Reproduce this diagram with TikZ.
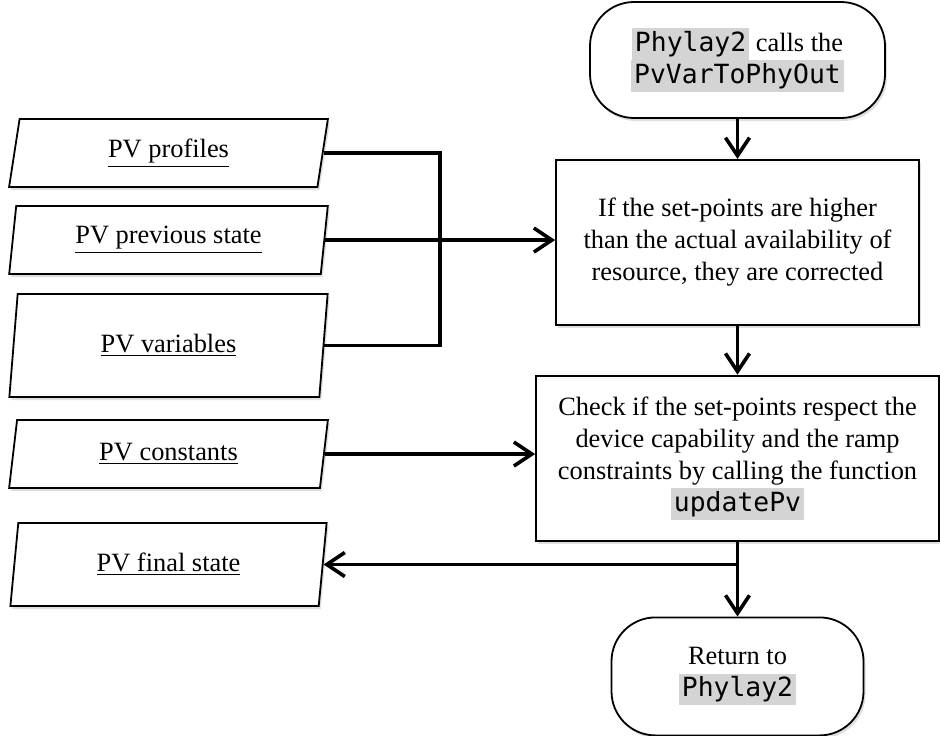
\documentclass[tikz,border=0pt]{standalone}
\usepackage{fontspec}
\setmainfont{Liberation Serif}
\setmonofont{DejaVu Sans Mono}
\usepackage{tikz}
\usetikzlibrary{
	positioning,
	arrows.meta,
	shapes.geometric,
	shadows
}
\definecolor{codegray}{RGB}{212,212,212}
\newcommand{\codebox}[1]{{\setlength{\fboxsep}{1.5pt}\colorbox{codegray}{\ttfamily #1}}}

\begin{document}
\begin{tikzpicture}[
				x=1pt, y=1pt,
				every node/.style={
					font=\fontsize{13.2}{16}\selectfont
				},
				terminal/.style={
					draw,
					rectangle,
					rounded corners=22pt,
					line width=0.9pt,
					fill=white,
					align=center,
					drop shadow={opacity=0.25, shadow xshift=1pt, shadow yshift=-1.5pt}
				},
				process/.style={
					draw,
					rectangle,
					line width=0.9pt,
					fill=white,
					align=center,
					drop shadow={opacity=0.25, shadow xshift=1pt, shadow yshift=-1.5pt}
				},
				dataio/.style={
					draw,
					trapezium,
					trapezium left angle=83.5,
					trapezium right angle=96.5,
					trapezium stretches=true,
					minimum width=159.5pt,
					line width=0.9pt,
					fill=white,
					drop shadow={opacity=0.25, shadow xshift=1pt, shadow yshift=-1.5pt}
				},
				link/.style={
					line width=1.8pt
				},
				arrow/.style={
					-{Straight Barb[length=9pt,width=12pt]},
					line width=1.8pt
				}
				]
				
				\useasboundingbox (0,0) rectangle (470,-367.5);
				
				% main column
				\node[terminal, minimum width=147.5pt, minimum height=58pt] (start) at (368.75,-30) {
					\codebox{Phylay2} calls the\\
					\codebox{PvVarToPhyOut}
				};
				
				\node[process, below=20pt of start, minimum width=181.5pt, minimum height=82.5pt] (correct) {
					If the set-points are higher\\
					than the actual availability of\\
					resource, they are corrected
				};
				
				\node[process, below=24.5pt of correct, minimum width=201.5pt, minimum height=82.5pt] (check) {
					Check if the set-points respect the\\
					device capability and the ramp\\
					constraints by calling the function\\
					\codebox{updatePv}
				};
				
				\node[terminal, below=37.5pt of check, minimum width=126pt, minimum height=59pt] (return) {
					Return to\\
					\codebox{Phylay2}
				};
				
				% data
				\node[dataio, minimum height=34pt] (profiles) at (84.25,-76.5) {\underline{PV profiles}};
				\node[dataio, minimum height=34pt] (previous) at (84.25,-120) {\underline{PV previous state}};
				\node[dataio, minimum height=51.5pt] (variables) at (84.25,-172.75) {\underline{PV variables}};
				\node[dataio, minimum height=34pt] (constants) at (84.25,-227) {\underline{PV constants}};
				\node[dataio, minimum height=41.5pt] (final) at (84.25,-282.25) {\underline{PV final state}};
				
				\coordinate (bus) at (220,0);
				\coordinate (fork) at (check.south |- final.east);
				
				\draw[link] (profiles.east) -| (bus |- variables.east) -- (variables.east);
				\draw[arrow] (previous.east) -- (previous.east -| correct.west);
				\draw[arrow] (constants.east) -- (constants.east -| check.west);
				\draw[arrow] (start) -- (correct);
				\draw[arrow] (correct) -- (check);
				\draw[arrow] (check) -- (return);
				\draw[arrow] (fork) -- (final.east);
				
			\end{tikzpicture}
\end{document}
